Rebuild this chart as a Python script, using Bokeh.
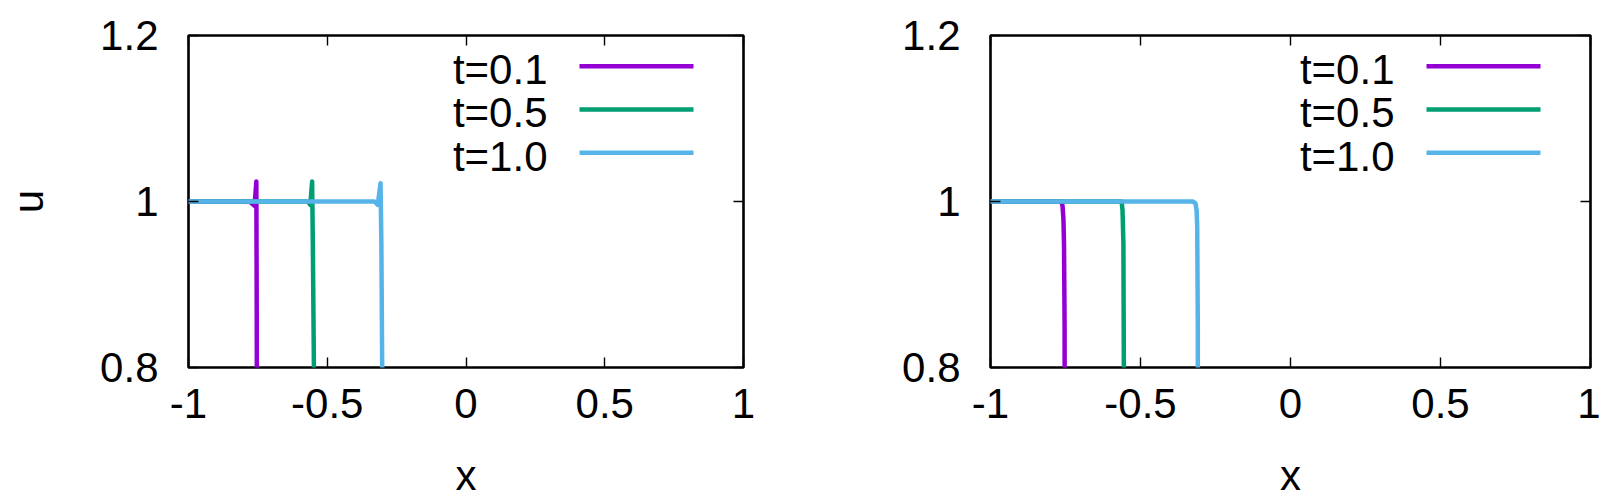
from bokeh.plotting import figure
from bokeh.models import LinearAxis, FixedTicker, Label, Arrow
from bokeh.layouts import row
from bokeh.embed import file_html
from bokeh.resources import INLINE

# ---------------- data ----------------
x_ticks = [-1, -0.5, 0, 0.5, 1]
x_tick_labels = ["-1", "-0.5", "0", "0.5", "1"]
y_ticks = [0.8, 1.0, 1.2]
y_tick_labels = ["0.8", "1", "1.2"]
series_names = ["t=0.1", "t=0.5", "t=1.0"]
colors = ["#9400d3", "#009e73", "#56b4e9"]

# left panel (oscillatory scheme)
left_x_t01 = [-1.0, -0.780, -0.762, -0.7555, -0.754, -0.752, 1.0]
left_u_t01 = [1.0, 1.0, 0.995, 1.024, 0.85, 0.0, 0.0]
left_x_t05 = [-1.0, -0.570, -0.561, -0.5545, -0.552, -0.548, -0.545, 1.0]
left_u_t05 = [1.0, 1.0, 0.996, 1.024, 0.95, 0.8, 0.0, 0.0]
left_x_t10 = [-1.0, -0.330, -0.318, -0.308, -0.305, -0.302, -0.300, 1.0]
left_u_t10 = [1.0, 1.0, 0.996, 1.022, 0.95, 0.8, 0.0, 0.0]

# right panel (monotone scheme)
right_x_t01 = [-1.0, -0.764, -0.760, -0.757, -0.755, -0.753, -0.751, 1.0]
right_u_t01 = [1.0, 1.0, 0.995, 0.98, 0.95, 0.85, 0.0, 0.0]
right_x_t05 = [-1.0, -0.563, -0.560, -0.557, -0.5555, -0.554, 1.0]
right_u_t05 = [1.0, 1.0, 0.99, 0.95, 0.8, 0.0, 0.0]
right_x_t10 = [-1.0, -0.326, -0.317, -0.313, -0.311, -0.309, -0.307, 1.0]
right_u_t10 = [1.0, 1.0, 0.998, 0.99, 0.97, 0.85, 0.0, 0.0]

FONT = "Liberation Sans"
FS = "42px"
FRAME_H = 333


def make_panel(curves, frame_w, border_left, border_right, ylabel):
    p = figure(width=border_left + frame_w + border_right, height=501,
               x_range=(-1, 1), y_range=(0.8, 1.2),
               output_backend="svg", toolbar_location=None,
               min_border_left=border_left, min_border_right=border_right,
               min_border_top=35, min_border_bottom=133,
               x_axis_location=None, y_axis_location=None)
    p.xgrid.visible = False
    p.ygrid.visible = False
    p.outline_line_color = "black"
    p.outline_line_width = 2.6
    p.background_fill_color = "white"
    p.border_fill_color = "white"

    def style(ax, ticks, labels, show_labels):
        ax.ticker = FixedTicker(ticks=ticks)
        ax.major_label_overrides = {t: l for t, l in zip(ticks, labels)}
        ax.major_tick_in = 10
        ax.major_tick_out = 0
        ax.major_tick_line_width = 1.4
        ax.major_tick_line_color = "black"
        ax.minor_tick_line_color = None
        ax.axis_line_color = None
        ax.major_label_text_font = FONT
        ax.major_label_text_color = "black"
        ax.axis_label_text_font = FONT
        ax.axis_label_text_color = "black"
        ax.axis_label_text_font_style = "normal"
        ax.axis_label_text_font_size = FS
        if show_labels:
            ax.major_label_text_font_size = FS
        else:
            ax.major_label_text_font_size = "1px"
            ax.major_label_text_color = None
            ax.major_label_standoff = 0

    xb = LinearAxis(axis_label="x")
    style(xb, x_ticks, x_tick_labels, True)
    xb.major_label_standoff = 21
    xb.axis_label_standoff = 31
    p.add_layout(xb, "below")

    xt = LinearAxis()
    style(xt, x_ticks, x_tick_labels, False)
    p.add_layout(xt, "above")

    yl = LinearAxis(axis_label=ylabel) if ylabel else LinearAxis()
    style(yl, y_ticks, y_tick_labels, True)
    yl.major_label_standoff = 30
    yl.axis_label_standoff = 45
    p.add_layout(yl, "left")

    yr = LinearAxis()
    style(yr, y_ticks, y_tick_labels, False)
    p.add_layout(yr, "right")

    for (xs, us), c in zip(curves, colors):
        p.line(xs, us, line_color=c, line_width=4.5, line_join="round")

    # key (text right-aligned, sample line on its right)
    row_h = 43.3
    line_right = frame_w - 50
    line_left = line_right - 114
    text_right = frame_w - 196
    for i, (name, c) in enumerate(zip(series_names, colors)):
        yc = FRAME_H - 31.7 - i * row_h
        p.add_layout(Arrow(x_start=line_left, y_start=yc, x_end=line_right, y_end=yc,
                           start_units="screen", end_units="screen", end=None,
                           line_color=c, line_width=4.5))
        p.add_layout(Label(x=text_right, y=FRAME_H - 35 - i * row_h,
                           x_units="screen", y_units="screen", text=name,
                           text_align="right", text_baseline="alphabetic",
                           text_font=FONT, text_font_size=FS, text_color="black"))
    return p


p1 = make_panel([(left_x_t01, left_u_t01), (left_x_t05, left_u_t05), (left_x_t10, left_u_t10)],
                555, 188, 60, "u")
p2 = make_panel([(right_x_t01, right_u_t01), (right_x_t05, right_u_t05), (right_x_t10, right_u_t10)],
                600, 187, 10, "")

layout = row(p1, p2)
open("out.html", "w").write(file_html(layout, INLINE))
